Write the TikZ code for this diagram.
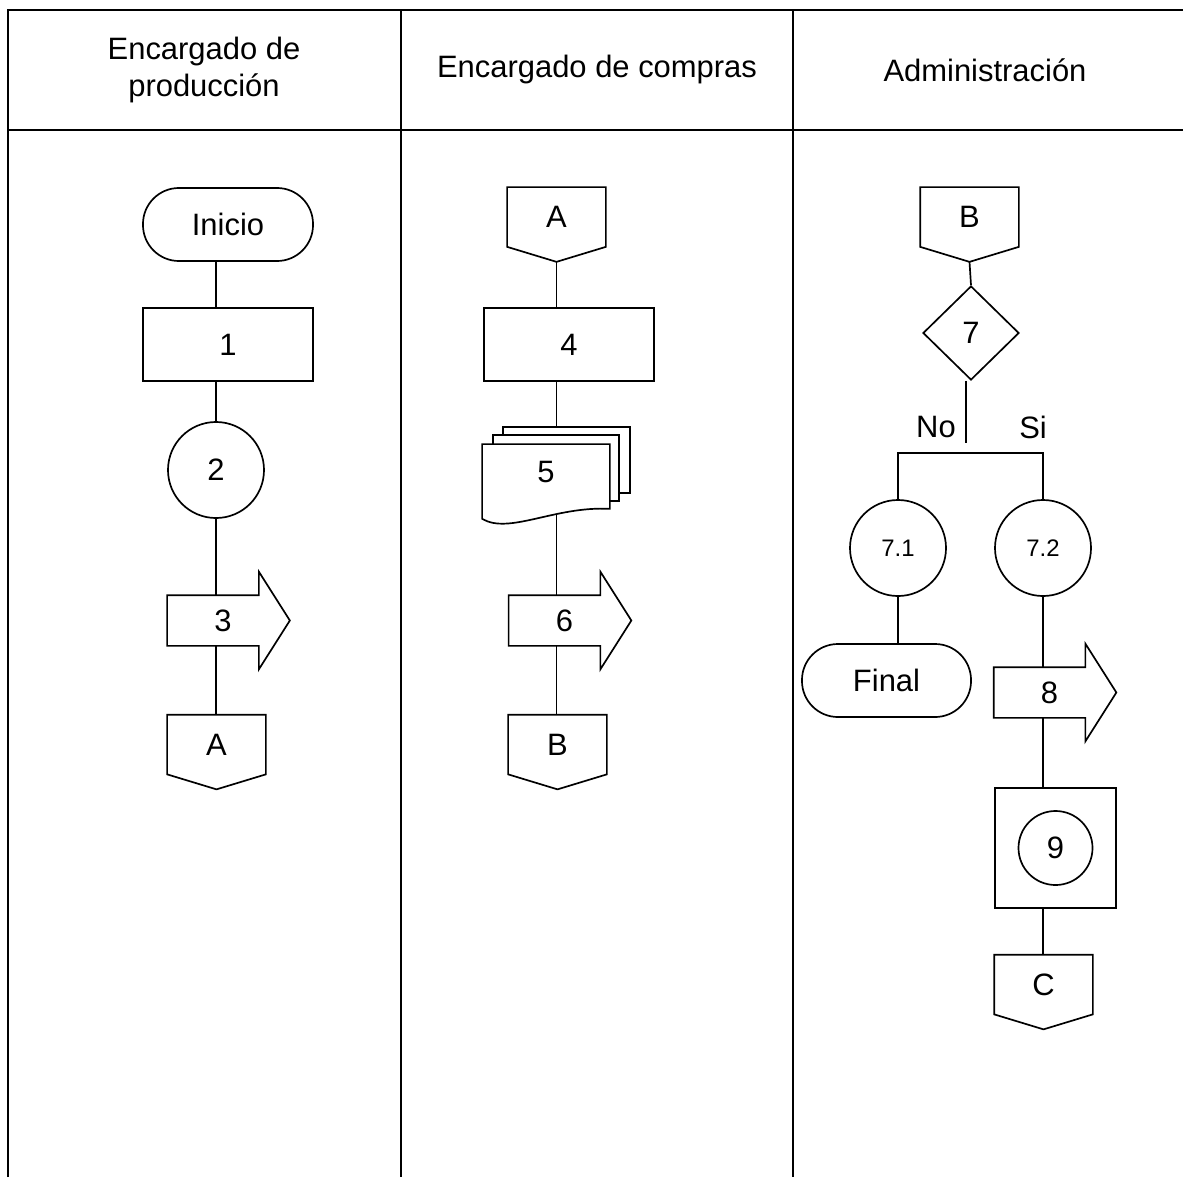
\documentclass[tikz,border=0pt]{standalone}
\usepackage{fontspec}
\setmainfont{Liberation Sans}
\usetikzlibrary{shapes.geometric,calc,backgrounds}

\newcommand{\offpage}[1]{%
  \coordinate (#1tip) at ($(#1.south)+(0,15)$);
  \draw (#1.south west) -- (#1.north west) -- (#1.north east) -- (#1.south east) -- (#1tip) -- cycle;}
\newcommand{\transarrow}[1]{%
  \draw (#1.north east) -- ++(0,-23.5) -- ($(#1.east)+(31,0)$) -- ($(#1.south east)+(0,23.5)$)
    -- (#1.south east) -- (#1.south west) -- (#1.north west) -- cycle;}
\newcommand{\docstack}[1]{%
  \coordinate (#1top) at ($(#1.north)+(0,-17)$);
  \begin{scope}[on background layer]
    \draw[sheet] ($(#1.north west)+(21,-17)$) rectangle ($(#1.south east)+(20,-26)$);
    \draw[sheet] ($(#1.north west)+(11,-9)$) rectangle ($(#1.south east)+(9,-18)$);
    \draw[sheet] (#1.north west) -- (#1.north east) -- ($(#1.south east)+(0,-10)$)
      .. controls ($(#1.south)+(9,-13)$) and ($(#1.south west)+(27,16)$) .. (#1.south west) -- cycle;
  \end{scope}}

\begin{document}
\begin{tikzpicture}[x=0.025cm, y=-0.025cm, line width=1.2pt,
  every node/.style={font=\fontsize{22}{27}\selectfont},
  small/.style={font=\fontsize{17}{20}\selectfont},
  term/.style={draw, rounded corners=0.9cm, minimum width=4.25cm, minimum height=1.825cm},
  proc/.style={draw, minimum width=4.25cm, minimum height=1.825cm},
  circ/.style={draw, circle, minimum size=2.4cm, inner sep=0pt},
  dec/.style={draw, diamond, minimum width=2.4cm, minimum height=2.35cm, inner sep=0pt},
  opg/.style={minimum width=2.425cm, minimum height=1.45cm},
  arr/.style={minimum width=2.25cm, minimum height=1.225cm},
  docu/.style={minimum width=3.15cm, minimum height=1.825cm},
  sheet/.style={fill=white, line width=1.2pt}]
\useasboundingbox (0,0) rectangle (1183,1177);
\draw (8,1177) -- (8,10) -- (1183,10);
\draw (8,130) -- (1183,130);
\draw (401,10) -- (401,1177);
\draw (793,10) -- (793,1177);
\node[align=center] (h1) at (204,70) {Encargado de\\producción};
\node (h2) at (597,70) {Encargado de compras};
\node (h3) at (985,70) {Administración};

\node[term] (inicio) at (228,224.5) {Inicio};
\node[proc] (b1) at (228,344.5) {1};
\node[circ] (p2) at (216,470) {2};
\node[arr, label={[xshift=0.25cm]center:3}] (t3) at (213,620.5) {};
\transarrow{t3}
\node[opg] (oa1) at (216.5,744.5) {A};
\offpage{oa1}
\draw (inicio.south -| p2) -- (b1.north -| p2);
\draw (b1.south -| p2) -- (p2.north);
\draw (p2.south) -- (t3.north -| p2);
\draw (t3.south -| p2) -- (oa1.north -| p2);

\node[opg] (oa2) at (556.5,217) {A};
\offpage{oa2}
\node[proc] (b4) at (569,344.5) {4};
\node[docu, label={[yshift=0.24cm]center:5}] (d5) at (546,481.5) {};
\docstack{d5}
\node[arr, label={[xshift=0.25cm]center:6}] (t6) at (554.5,620.5) {};
\transarrow{t6}
\node[opg] (ob2) at (557.5,744.5) {B};
\offpage{ob2}
\draw (oa2tip) -- (b4.north -| oa2tip);
\draw (b4.south -| oa2tip) -- (d5top -| oa2tip);
\draw ($(d5.south -| oa2tip)+(0,-5)$) -- (t6.north -| oa2tip);
\draw (t6.south -| oa2tip) -- (ob2.north -| oa2tip);

\node[opg] (ob3) at (969.5,217) {B};
\offpage{ob3}
\node[dec] (d7) at (971,333) {7};
\coordinate (split) at (966,443);
\coordinate (bar) at (970,453);
\node (no) at (936,427) {No};
\node (si) at (1033,427) {Si};
\node[circ, small] (c71) at (898,548) {7.1};
\node[circ, small] (c72) at (1043,548) {7.2};
\node[term, minimum width=4.225cm] (fin) at (886.5,680.5) {Final};
\node[arr, label={[xshift=0.25cm]center:8}] (t8) at (1039.5,692.5) {};
\transarrow{t8}
\node[proc, minimum width=3.025cm, minimum height=3cm] (b9) at (1055.5,848) {};
\node[circ, minimum size=1.85cm] (c9) at (b9) {9};
\node[opg] (oc) at (1043.5,984.5) {C};
\offpage{oc}
\draw (ob3tip) -- (d7.north);
\draw (d7.south -| split) -- (split);
\draw (c71.north) -- (c71.north |- bar) -- (c72.north |- bar) -- (c72.north);
\draw (c71.south) -- (fin.north -| c71);
\draw (c72.south) -- (t8.north -| c72);
\draw (t8.south -| c72) -- (b9.north -| c72);
\draw (b9.south -| c72) -- (oc.north -| c72);
\end{tikzpicture}
\end{document}
